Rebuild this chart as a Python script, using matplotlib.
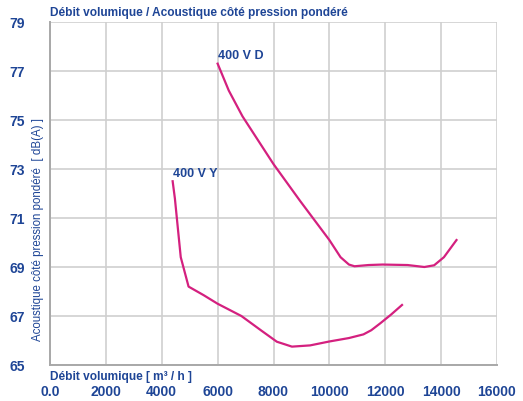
import matplotlib.pyplot as plt

# 400 V Y
debit_y = [4390, 4470, 4540, 4680, 4960, 5500, 6000, 6850, 7570, 8120, 8660, 9310, 10000, 10700, 11220, 11500, 11820, 12200, 12600]
db_y = [72.5, 71.8, 71.0, 69.4, 68.2, 67.85, 67.5, 67.0, 66.4, 65.95, 65.75, 65.8, 65.96, 66.1, 66.25, 66.42, 66.7, 67.05, 67.45]

# 400 V D
debit_d = [6000, 6400, 6890, 8000, 8950, 10000, 10400, 10700, 10900, 11400, 11900, 12800, 13400, 13750, 14100, 14550]
db_d = [77.3, 76.2, 75.15, 73.2, 71.7, 70.1, 69.4, 69.1, 69.03, 69.08, 69.1, 69.08, 69.0, 69.07, 69.4, 70.1]

xticks = list(range(0, 16001, 2000))
xlabels = ['0.0'] + [str(v) for v in xticks[1:]]
yticks = list(range(65, 80, 2))

bleu = '#1e4596'
rose = '#d4207f'
gris = '#cfcfcf'

plt.rcParams['font.family'] = ['Liberation Sans', 'DejaVu Sans']

fig = plt.figure(figsize=(5.23, 4.02), dpi=100)
ax = fig.add_axes([50 / 523, 36 / 402, 447 / 523, 343 / 402])

ax.plot(debit_y, db_y, color=rose, lw=1.6)
ax.plot(debit_d, db_d, color=rose, lw=1.6)

ax.text(debit_d[0], db_d[0] + 0.1, '400 V D', color=bleu, fontsize=9, fontweight='bold', va='bottom')
ax.text(debit_y[0], db_y[0] + 0.1, '400 V Y', color=bleu, fontsize=9, fontweight='bold', va='bottom')

ax.set_xlim(0, 16000)
ax.set_ylim(65, 79)
ax.set_xticks(xticks)
ax.set_xticklabels(xlabels)
ax.set_yticks(yticks)
ax.grid(True, color=gris, lw=1.2)
ax.tick_params(axis='both', length=0, colors=bleu, labelsize=10)
ax.tick_params(axis='x', pad=14)
ax.tick_params(axis='y', pad=18)
for lab in ax.get_xticklabels() + ax.get_yticklabels():
    lab.set_fontweight('bold')
for s in ['top', 'right']:
    ax.spines[s].set_visible(False)
for s in ['left', 'bottom']:
    ax.spines[s].set_color('#a8a8a8')
    ax.spines[s].set_linewidth(1.4)

fig.text(50 / 523, 1 - 13 / 402, 'Débit volumique / Acoustique côté pression pondéré',
         color=bleu, fontsize=8.6, fontweight='bold', va='center', ha='left')
fig.text(50 / 523, 1 - 377 / 402, 'Débit volumique [ m³ / h ]',
         color=bleu, fontsize=8.6, fontweight='bold', va='center', ha='left')
fig.text(38 / 523, 1 - 230 / 402, 'Acoustique côté pression pondéré  [ dB(A) ]',
         color=bleu, fontsize=8.3, rotation=90, va='center', ha='center')

fig.savefig('out.png', dpi=100)
